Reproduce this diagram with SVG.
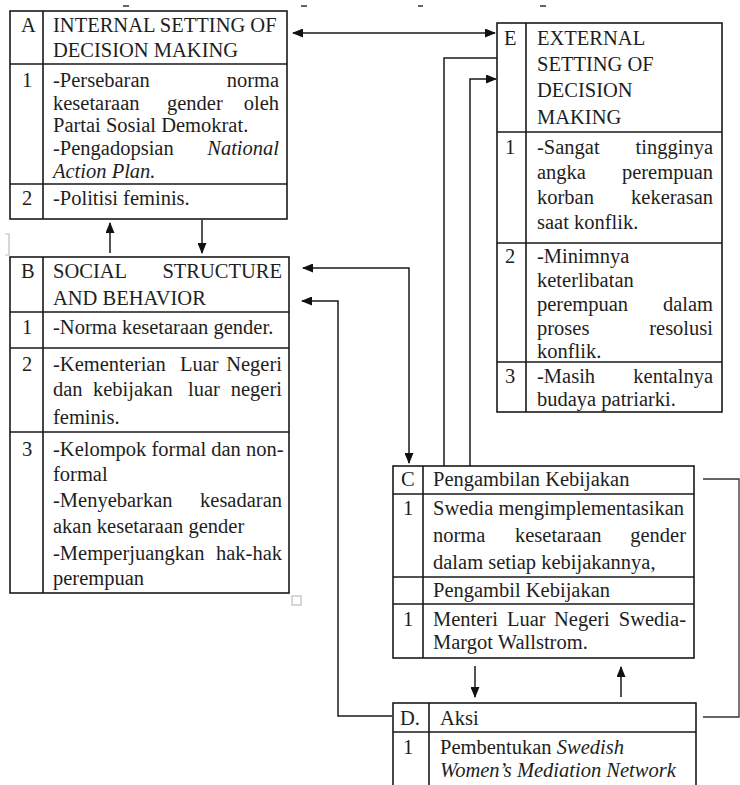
<svg xmlns="http://www.w3.org/2000/svg" width="740" height="785" viewBox="0 0 740 785">
<defs>
<marker id="ah" markerUnits="userSpaceOnUse" markerWidth="11" markerHeight="9" refX="10" refY="4.5" orient="auto-start-reverse" viewBox="0 0 11 9"><path d="M0,0 L11,4.5 L0,9 z" fill="#111"/></marker>
</defs>
<rect width="740" height="785" fill="#fff"/>

<g id="artifacts">
<path d="M123 6H129M301 6H307M418 6H423M540 6H546" stroke="#666" stroke-width="2"/>
<path d="M5 234H9V255H5" fill="none" stroke="#bdbdbd" stroke-width="1.2"/>
<rect x="292" y="596" width="9" height="9" fill="none" stroke="#bdbdbd" stroke-width="1.2"/>
</g>

<g id="node-A">
<rect x="10" y="11" width="277" height="208" fill="#fff" stroke="#1a1a1a" stroke-width="1.6"/>
<path d="M43 11V219M10 64H287M10 184H287" fill="none" stroke="#1a1a1a" stroke-width="1.6"/>
<text font-family="Liberation Serif" font-size="20.5" fill="#1e1e1e" x="21" y="32">A</text>
<text font-family="Liberation Serif" font-size="20.5" fill="#1e1e1e" x="53" y="32">INTERNAL SETTING OF</text>
<text font-family="Liberation Serif" font-size="20.5" fill="#1e1e1e" x="53" y="57">DECISION MAKING</text>
<text font-family="Liberation Serif" font-size="20.5" fill="#1e1e1e" x="22" y="87">1</text>
<text font-family="Liberation Serif" font-size="20.5" fill="#1e1e1e" x="53" y="87">-Persebaran</text>
<text font-family="Liberation Serif" font-size="20.5" fill="#1e1e1e" text-anchor="end" x="279" y="87">norma</text>
<text font-family="Liberation Serif" font-size="20.5" fill="#1e1e1e" x="53" y="110">kesetaraan</text>
<text font-family="Liberation Serif" font-size="20.5" fill="#1e1e1e" x="167" y="110">gender</text>
<text font-family="Liberation Serif" font-size="20.5" fill="#1e1e1e" text-anchor="end" x="279" y="110">oleh</text>
<text font-family="Liberation Serif" font-size="20.5" fill="#1e1e1e" x="53" y="132">Partai Sosial Demokrat.</text>
<text font-family="Liberation Serif" font-size="20.5" fill="#1e1e1e" x="53" y="155">-Pengadopsian</text>
<text font-family="Liberation Serif" font-size="20.5" fill="#1e1e1e" font-style="italic" text-anchor="end" x="279" y="155">National</text>
<text font-family="Liberation Serif" font-size="20.5" fill="#1e1e1e" font-style="italic" x="53" y="178">Action Plan.</text>
<text font-family="Liberation Serif" font-size="20.5" fill="#1e1e1e" x="22" y="205">2</text>
<text font-family="Liberation Serif" font-size="20.5" fill="#1e1e1e" x="53" y="205">-Politisi feminis.</text>
</g>

<g id="node-E">
<rect x="497" y="23" width="225" height="389" fill="#fff" stroke="#1a1a1a" stroke-width="1.6"/>
<path d="M526 23V412M497 132H722M497 243H722M497 362H722" fill="none" stroke="#1a1a1a" stroke-width="1.6"/>
<text font-family="Liberation Serif" font-size="20.5" fill="#1e1e1e" x="504" y="45">E</text>
<text font-family="Liberation Serif" font-size="20.5" fill="#1e1e1e" x="537" y="45">EXTERNAL</text>
<text font-family="Liberation Serif" font-size="20.5" fill="#1e1e1e" x="537" y="71">SETTING OF</text>
<text font-family="Liberation Serif" font-size="20.5" fill="#1e1e1e" x="537" y="97">DECISION</text>
<text font-family="Liberation Serif" font-size="20.5" fill="#1e1e1e" x="537" y="124">MAKING</text>
<text font-family="Liberation Serif" font-size="20.5" fill="#1e1e1e" x="505" y="154">1</text>
<text font-family="Liberation Serif" font-size="20.5" fill="#1e1e1e" x="537" y="154">-Sangat</text>
<text font-family="Liberation Serif" font-size="20.5" fill="#1e1e1e" text-anchor="end" x="713" y="154">tingginya</text>
<text font-family="Liberation Serif" font-size="20.5" fill="#1e1e1e" x="537" y="179">angka</text>
<text font-family="Liberation Serif" font-size="20.5" fill="#1e1e1e" text-anchor="end" x="713" y="179">perempuan</text>
<text font-family="Liberation Serif" font-size="20.5" fill="#1e1e1e" x="537" y="204">korban</text>
<text font-family="Liberation Serif" font-size="20.5" fill="#1e1e1e" text-anchor="end" x="713" y="204">kekerasan</text>
<text font-family="Liberation Serif" font-size="20.5" fill="#1e1e1e" x="537" y="229">saat konflik.</text>
<text font-family="Liberation Serif" font-size="20.5" fill="#1e1e1e" x="505" y="263">2</text>
<text font-family="Liberation Serif" font-size="20.5" fill="#1e1e1e" x="537" y="263">-Minimnya</text>
<text font-family="Liberation Serif" font-size="20.5" fill="#1e1e1e" x="537" y="287">keterlibatan</text>
<text font-family="Liberation Serif" font-size="20.5" fill="#1e1e1e" x="537" y="311">perempuan</text>
<text font-family="Liberation Serif" font-size="20.5" fill="#1e1e1e" text-anchor="end" x="713" y="311">dalam</text>
<text font-family="Liberation Serif" font-size="20.5" fill="#1e1e1e" x="537" y="335">proses</text>
<text font-family="Liberation Serif" font-size="20.5" fill="#1e1e1e" text-anchor="end" x="713" y="335">resolusi</text>
<text font-family="Liberation Serif" font-size="20.5" fill="#1e1e1e" x="537" y="358">konflik.</text>
<text font-family="Liberation Serif" font-size="20.5" fill="#1e1e1e" x="505" y="383">3</text>
<text font-family="Liberation Serif" font-size="20.5" fill="#1e1e1e" x="537" y="383">-Masih</text>
<text font-family="Liberation Serif" font-size="20.5" fill="#1e1e1e" text-anchor="end" x="713" y="383">kentalnya</text>
<text font-family="Liberation Serif" font-size="20.5" fill="#1e1e1e" x="537" y="406">budaya patriarki.</text>
</g>

<g id="node-B">
<rect x="10" y="257" width="279" height="336" fill="#fff" stroke="#1a1a1a" stroke-width="1.6"/>
<path d="M43 257V593M10 312H289M10 348H289M10 432H289" fill="none" stroke="#1a1a1a" stroke-width="1.6"/>
<text font-family="Liberation Serif" font-size="20.5" fill="#1e1e1e" x="21" y="278">B</text>
<text font-family="Liberation Serif" font-size="20.5" fill="#1e1e1e" x="53" y="278">SOCIAL</text>
<text font-family="Liberation Serif" font-size="20.5" fill="#1e1e1e" text-anchor="end" x="282" y="278">STRUCTURE</text>
<text font-family="Liberation Serif" font-size="20.5" fill="#1e1e1e" x="53" y="305">AND BEHAVIOR</text>
<text font-family="Liberation Serif" font-size="20.5" fill="#1e1e1e" x="22" y="334">1</text>
<text font-family="Liberation Serif" font-size="20.5" fill="#1e1e1e" x="53" y="334">-Norma kesetaraan gender.</text>
<text font-family="Liberation Serif" font-size="20.5" fill="#1e1e1e" x="22" y="371">2</text>
<text font-family="Liberation Serif" font-size="20.5" fill="#1e1e1e" x="53" y="371">-Kementerian</text>
<text font-family="Liberation Serif" font-size="20.5" fill="#1e1e1e" x="180" y="371">Luar</text>
<text font-family="Liberation Serif" font-size="20.5" fill="#1e1e1e" text-anchor="end" x="282" y="371">Negeri</text>
<text font-family="Liberation Serif" font-size="20.5" fill="#1e1e1e" x="53" y="396">dan</text>
<text font-family="Liberation Serif" font-size="20.5" fill="#1e1e1e" x="93" y="396">kebijakan</text>
<text font-family="Liberation Serif" font-size="20.5" fill="#1e1e1e" x="188" y="396">luar</text>
<text font-family="Liberation Serif" font-size="20.5" fill="#1e1e1e" text-anchor="end" x="282" y="396">negeri</text>
<text font-family="Liberation Serif" font-size="20.5" fill="#1e1e1e" x="53" y="424">feminis.</text>
<text font-family="Liberation Serif" font-size="20.5" fill="#1e1e1e" x="22" y="456">3</text>
<text font-family="Liberation Serif" font-size="20.5" fill="#1e1e1e" x="53" y="456">-Kelompok formal dan non-</text>
<text font-family="Liberation Serif" font-size="20.5" fill="#1e1e1e" x="53" y="481">formal</text>
<text font-family="Liberation Serif" font-size="20.5" fill="#1e1e1e" x="53" y="507">-Menyebarkan</text>
<text font-family="Liberation Serif" font-size="20.5" fill="#1e1e1e" text-anchor="end" x="282" y="507">kesadaran</text>
<text font-family="Liberation Serif" font-size="20.5" fill="#1e1e1e" x="53" y="533">akan kesetaraan gender</text>
<text font-family="Liberation Serif" font-size="20.5" fill="#1e1e1e" x="53" y="560">-Memperjuangkan</text>
<text font-family="Liberation Serif" font-size="20.5" fill="#1e1e1e" text-anchor="end" x="282" y="560">hak-hak</text>
<text font-family="Liberation Serif" font-size="20.5" fill="#1e1e1e" x="53" y="585">perempuan</text>
</g>

<g id="node-C">
<rect x="393" y="466" width="301" height="192" fill="#fff" stroke="#1a1a1a" stroke-width="1.6"/>
<path d="M423 466V658M393 494H694M393 577H694M393 604H694" fill="none" stroke="#1a1a1a" stroke-width="1.6"/>
<text font-family="Liberation Serif" font-size="20.5" fill="#1e1e1e" x="401" y="486">C</text>
<text font-family="Liberation Serif" font-size="20.5" fill="#1e1e1e" x="433" y="486">Pengambilan Kebijakan</text>
<text font-family="Liberation Serif" font-size="20.5" fill="#1e1e1e" x="403" y="515">1</text>
<text font-family="Liberation Serif" font-size="20.5" fill="#1e1e1e" x="433" y="515">Swedia mengimplementasikan</text>
<text font-family="Liberation Serif" font-size="20.5" fill="#1e1e1e" x="433" y="542">norma</text>
<text font-family="Liberation Serif" font-size="20.5" fill="#1e1e1e" x="515" y="542">kesetaraan</text>
<text font-family="Liberation Serif" font-size="20.5" fill="#1e1e1e" text-anchor="end" x="686" y="542">gender</text>
<text font-family="Liberation Serif" font-size="20.5" fill="#1e1e1e" x="433" y="569">dalam setiap kebijakannya,</text>
<text font-family="Liberation Serif" font-size="20.5" fill="#1e1e1e" x="433" y="597">Pengambil Kebijakan</text>
<text font-family="Liberation Serif" font-size="20.5" fill="#1e1e1e" x="403" y="626">1</text>
<text font-family="Liberation Serif" font-size="20.5" fill="#1e1e1e" x="433" y="626">Menteri</text>
<text font-family="Liberation Serif" font-size="20.5" fill="#1e1e1e" x="507" y="626">Luar</text>
<text font-family="Liberation Serif" font-size="20.5" fill="#1e1e1e" x="554" y="626">Negeri</text>
<text font-family="Liberation Serif" font-size="20.5" fill="#1e1e1e" text-anchor="end" x="686" y="626">Swedia-</text>
<text font-family="Liberation Serif" font-size="20.5" fill="#1e1e1e" x="433" y="649">Margot Wallstrom.</text>
</g>

<g id="node-D">
<rect x="393" y="703" width="303" height="100" fill="#fff" stroke="#1a1a1a" stroke-width="1.6"/>
<path d="M429 703V790M393 732H696" fill="none" stroke="#1a1a1a" stroke-width="1.6"/>
<text font-family="Liberation Serif" font-size="20.5" fill="#1e1e1e" x="400" y="725">D.</text>
<text font-family="Liberation Serif" font-size="20.5" fill="#1e1e1e" x="440" y="725">Aksi</text>
<text font-family="Liberation Serif" font-size="20.5" fill="#1e1e1e" x="403" y="754">1</text>
<text font-family="Liberation Serif" font-size="20.5" fill="#1e1e1e" x="440" y="754">Pembentukan <tspan font-style="italic">Swedish</tspan></text>
<text font-family="Liberation Serif" font-size="20.5" fill="#1e1e1e" font-style="italic" x="440" y="777">Women’s Mediation Network</text>
</g>

<g id="connectors" fill="none" stroke="#1a1a1a" stroke-width="1.5">
<path d="M293 33H495" marker-start="url(#ah)" marker-end="url(#ah)"/>
<path d="M110 253V223" marker-end="url(#ah)"/>
<path d="M202 220V253" marker-end="url(#ah)"/>
<path d="M303 268H409V463" marker-start="url(#ah)" marker-end="url(#ah)"/>
<path d="M392 716H338V301H302" marker-end="url(#ah)"/>
<path d="M444 466V58H497"/>
<path d="M470 466V79H496" marker-end="url(#ah)"/>
<path d="M475 666V697" marker-end="url(#ah)"/>
<path d="M621 697V667" marker-end="url(#ah)"/>
<path d="M703 479H739V717H703" stroke="#333" stroke-width="1.3"/>
</g>
</svg>
